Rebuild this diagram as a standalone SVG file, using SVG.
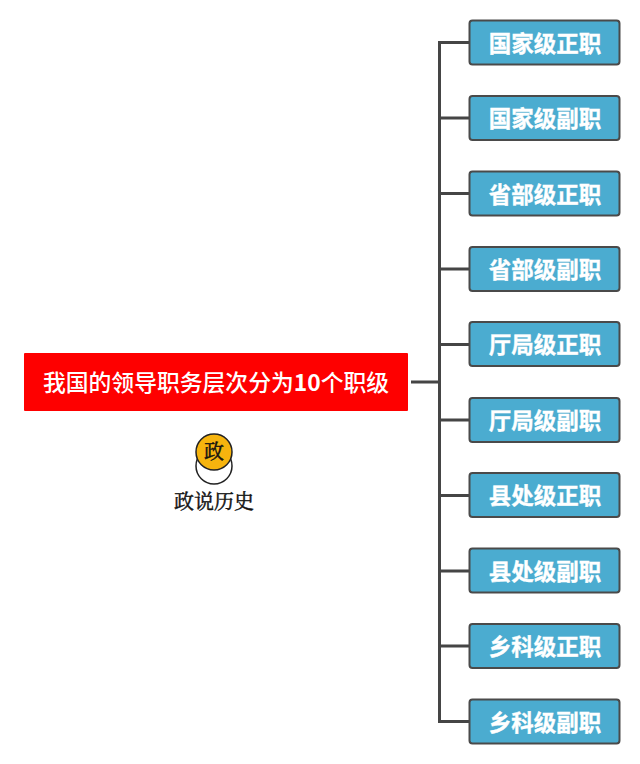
<svg xmlns="http://www.w3.org/2000/svg" width="640" height="764" viewBox="0 0 640 764">
<style>
.n{fill:#4bacd0;stroke:#4a4a4a;stroke-width:2}
.t{font-family:"Noto Sans CJK SC","Liberation Sans",sans-serif;font-size:22.5px;font-weight:700;fill:#fff;stroke:#fff;stroke-width:.35;text-anchor:middle}
.c{fill:none;stroke:#454545;stroke-width:3}
.s{font-family:"Noto Serif CJK SC","Noto Sans CJK SC",serif;fill:#111;stroke:#111;stroke-width:.45;text-anchor:middle}
</style>
<rect width="640" height="764" fill="#fff"/>
<g id="connectors">
<path class="c" d="M411 382H439.500M469 42.500H439.500V721.500H469M439.500 118H469M439.500 193.500H469M439.500 269H469M439.500 344.500H469M439.500 420H469M439.500 495.500H469M439.500 571H469M439.500 646H469"/>
</g>
<g id="root">
<rect x="24" y="353" width="384" height="58" rx="1" fill="#fe0000"/>
<text x="216" y="391" font-family="'Noto Sans CJK SC',sans-serif" font-size="22.8" font-weight="500" fill="#fff" text-anchor="middle">我国的领导职务层次分为<tspan font-weight="700">10</tspan>个职级</text>
</g>
<g id="logo">
<ellipse cx="214" cy="466" rx="18" ry="18" fill="#fff" stroke="#222" stroke-width="1.5"/>
<circle cx="214" cy="452" r="18" fill="#f6b40e" stroke="#222" stroke-width="1.5"/>
<text class="s" x="214" y="459" font-size="20">政</text>
<text class="s" x="214" y="509" font-size="20">政说历史</text>
</g>
<g id="n1"><rect class="n" x="469.500" y="20.500" width="150" height="44" rx="3"/><text class="t" x="545" y="52">国家级正职</text></g>
<g id="n2"><rect class="n" x="469.500" y="96" width="150" height="44" rx="3"/><text class="t" x="545" y="127">国家级副职</text></g>
<g id="n3"><rect class="n" x="469.500" y="171.500" width="150" height="44" rx="3"/><text class="t" x="545" y="203">省部级正职</text></g>
<g id="n4"><rect class="n" x="469.500" y="247" width="150" height="44" rx="3"/><text class="t" x="545" y="278">省部级副职</text></g>
<g id="n5"><rect class="n" x="469.500" y="322" width="150" height="44" rx="3"/><text class="t" x="545" y="353">厅局级正职</text></g>
<g id="n6"><rect class="n" x="469.500" y="398" width="150" height="44" rx="3"/><text class="t" x="545" y="429">厅局级副职</text></g>
<g id="n7"><rect class="n" x="469.500" y="473" width="150" height="44" rx="3"/><text class="t" x="545" y="504">县处级正职</text></g>
<g id="n8"><rect class="n" x="469.500" y="548.500" width="150" height="44" rx="3"/><text class="t" x="545" y="580">县处级副职</text></g>
<g id="n9"><rect class="n" x="469.500" y="624" width="150" height="44" rx="3"/><text class="t" x="545" y="655">乡科级正职</text></g>
<g id="n10"><rect class="n" x="469.500" y="699.500" width="150" height="44" rx="3"/><text class="t" x="545" y="731">乡科级副职</text></g>
</svg>
